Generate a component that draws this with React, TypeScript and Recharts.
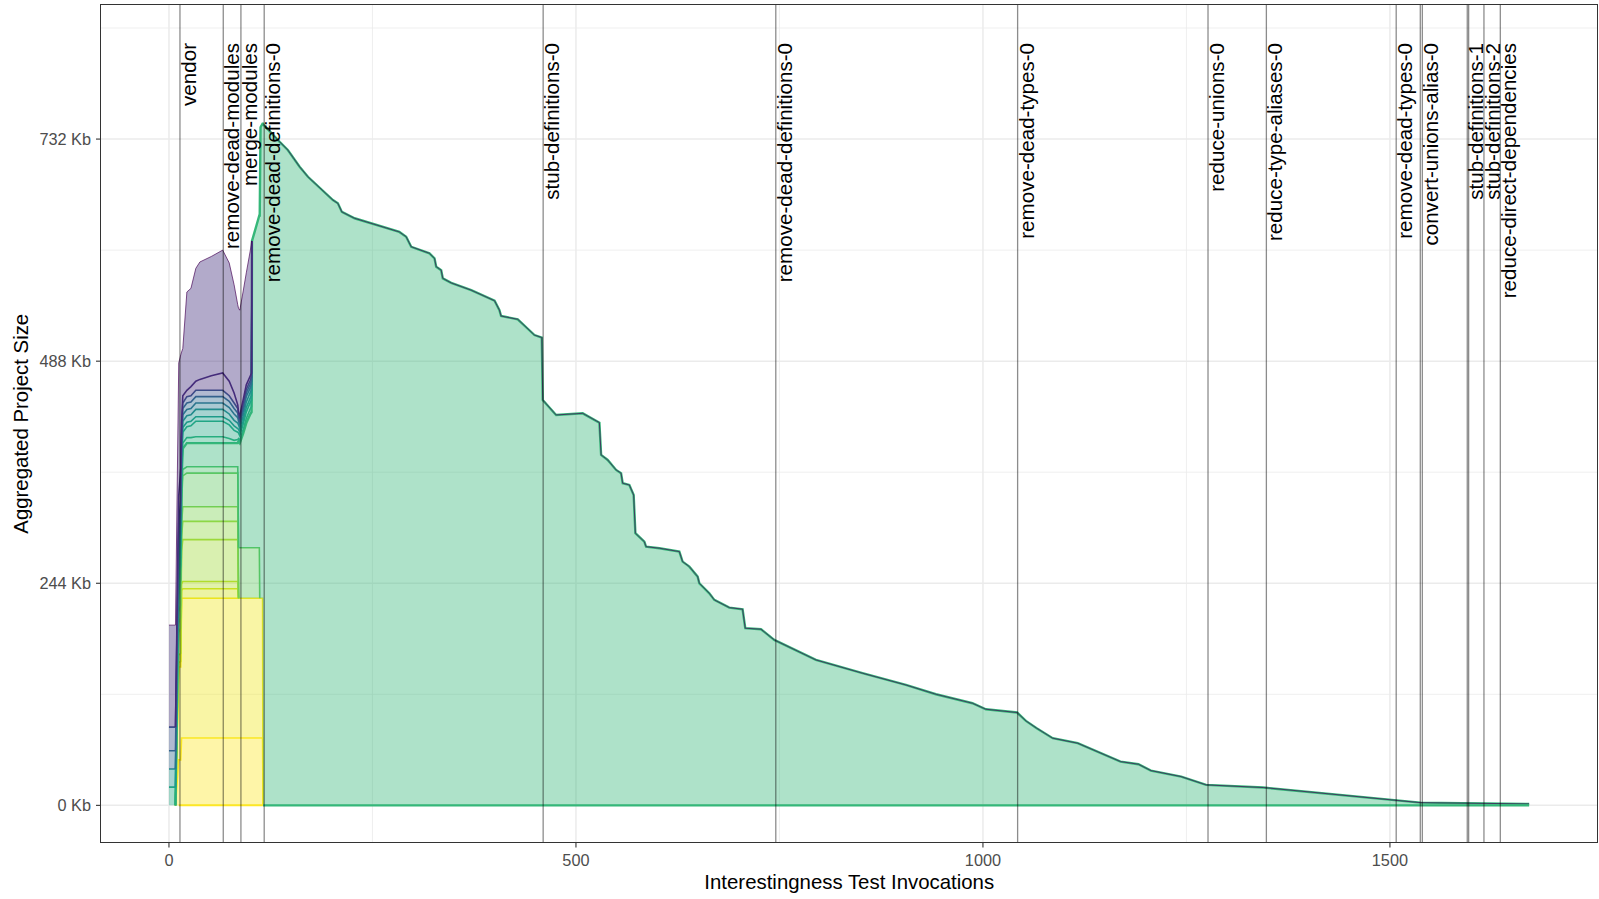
import React from "react";
import {
  ComposedChart,
  Area,
  XAxis,
  YAxis,
  CartesianGrid,
  ReferenceLine,
} from "recharts";

const FONT = '"Liberation Sans", Arial, Helvetica, sans-serif';

// reduction passes, at the test invocation where each one starts
const stageNames = [
  "vendor",
  "remove-dead-modules",
  "merge-modules",
  "remove-dead-definitions-0",
  "stub-definitions-0",
  "remove-dead-definitions-0",
  "remove-dead-types-0",
  "reduce-unions-0",
  "reduce-type-aliases-0",
  "remove-dead-types-0",
  "convert-unions-alias-0",
  "stub-definitions-1",
  "stub-definitions-2",
  "reduce-direct-dependencies",
];
const stageX = [13.5, 66.7, 88.4, 117, 459.7, 745.5, 1042.6, 1276.5, 1348.2, 1507.7, 1539.8, 1595, 1615.5, 1635.6];
// unlabelled marks drawn right next to a labelled one
const twinStageX = [1537.3, 1596.7];

const xTicks = [0, 500, 1000, 1500];
const xMinor = [250, 750, 1250];
const yTicks = [0, 244, 488, 732];
const yMinor = [122, 366, 610, 854];

// early phase: one value per file (Kb) at each of these invocations
const earlyX = [0, 8, 12, 14.5, 15.5, 17, 22, 27, 33, 38, 52, 66, 74, 80, 84.5, 85.5, 87, 91, 95, 100, 101.5, 102, 111, 111.5, 112.5, 115, 115.5];

const yellowA = [null, 0, 50, 50, 74, 74, 74, 74, 74, 74, 74, 74, 74, 74, 74, 74, 74, 74, 74, 74, 74, 74, 74, 74, 74, 74, 0];
const yellowB = [null, 0, 102, 102, 153.5, 153.5, 153.5, 153.5, 153.5, 153.5, 153.5, 153.5, 153.5, 153.5, 153.5, 153.5, 153.5, 153.5, 153.5, 153.5, 153.5, 153.5, 153.5, 153.5, 153.5, 153.5, 0];
const limeA = [null, 0, 5, 6, 8.5, 10.5, 10.5, 10.5, 10.5, 10.5, 10.5, 10.5, 10.5, 10.5, 10.5, 0, null, null, null, null, null, null, null, null, null, null, null];
const limeB = [null, 0, 8, 9, 7, 8, 8, 8, 8, 8, 8, 8, 8, 8, 8, 0, null, null, null, null, null, null, null, null, null, null, null];
const leafA = [null, 0, 25, 28, 37, 46, 46, 46, 46, 46, 46, 46, 46, 46, 46, 0, null, null, null, null, null, null, null, null, null, null, null];
const leafB = [null, 0, 10, 12, 16, 20, 20, 20, 20, 20, 20, 20, 20, 20, 20, 0, null, null, null, null, null, null, null, null, null, null, null];
const leafC = [null, 0, 12, 13, 14, 16, 16, 16, 16, 16, 16, 16, 16, 16, 16, 0, null, null, null, null, null, null, null, null, null, null, null];
const grassA = [null, 0, 20, 25, 25, 34, 37, 37, 37, 37, 37, 37, 37, 37, 37, 55.5, 55.5, 55.5, 55.5, 55.5, 55.5, 55.5, 55.5, 0, null, null, null];
const grassB = [null, 0, 5, 5, 7, 7, 7, 7, 7, 7, 7, 7, 7, 7, 7, 0, null, null, null, null, null, null, null, null, null, null, null];
const mainEarly = [null, 0, 13, 15, 18, 23, 26, 26, 26, 26, 26, 26, 26, 26, 26, 117, 115, 125, 137, 147, 149, 337, 365, 420.5, 517.5, 521.5, 749];
const tealA = [null, 0, 6, 7, 6, 6, 6, 6, 7, 7, 7, 7, 5, 3, 4, 3, 3, 4, 5, 6, 6, 0, null, null, null, null, null];
const tealB = [20, 20, 10, 12, 12, 12, 12, 13, 17, 17, 17, 17, 15, 11, 8, 6, 5, 6, 7, 7, 7, 0, null, null, null, null, null];
const tealC = [null, 0, 6, 6, 5, 5, 5, 5, 5, 5, 5, 5, 5, 5, 4, 4, 4, 4, 5, 5, 5, 0, null, null, null, null, null];
const tealD = [20, 20, 8, 10, 7, 7, 7, 7, 8, 8, 8, 8, 7, 6, 6, 5, 4, 5, 6, 6, 6, 0, null, null, null, null, null];
const blueA = [null, 0, 10, 12, 7, 7, 7, 7, 7, 7, 7, 7, 7, 7, 6, 4, 4, 5, 6, 5, 6, 0, null, null, null, null, null];
const blueB = [20, 20, 10, 12, 7, 7, 7, 7, 7, 7, 7, 7, 7, 6, 5, 3, 3, 4, 4, 4, 4, 0, null, null, null, null, null];
const blueC = [26, 26, 10, 12, 6, 6, 7, 7, 7, 7, 7, 7, 6, 6, 5, 2, 3, 4, 4, 4, 4, 0, null, null, null, null, null];
const indigo = [null, 0, 30, 34, 10, 8, 7, 10, 10, 12, 16, 19, 16, 11, 4, 5, 4, 5, 5, 5, 5, 0, null, null, null, null, null];
const purple = [112, 112, 146, 125, 78, 52, 108, 108, 124, 129, 131, 135, 130, 119, 110, 114, 116, 119, 123, 138, 145, 0, null, null, null, null, null];

// the merged file after every other file has been folded into it
const mainTailX = [116, 136, 146, 160.5, 170.7, 201.4, 207.5, 212.4, 228, 283, 291.4, 297.6, 320, 326.2, 328.3, 334.4, 336.4, 346.7, 371.3, 400, 406, 408, 428.5, 449, 458, 459.2, 475.6, 508.3, 528.8, 530.9, 539, 549.3, 555.4, 557.4, 565.6, 570.9, 573, 584, 586.1, 602.5, 627, 631, 639.3, 649.5, 651.6, 663.8, 670, 688.4, 704.7, 708, 727.3, 743.6, 794.8, 852, 905.3, 942.2, 987.1, 1003.6, 1041.9, 1052.8, 1066, 1085.7, 1116.4, 1169, 1191, 1206.3, 1243.5, 1274.2, 1344.4, 1502.2, 1537.3, 1671];
const mainTailKb = [748, 729, 720, 701.6, 690.6, 665, 661.4, 652, 645, 630, 624.7, 613.7, 606.5, 601, 591.8, 588, 579, 574, 566, 554.4, 544, 537.6, 534, 516.7, 514, 445.4, 428.9, 430.7, 420.5, 385, 379.5, 368.5, 365, 353.9, 352, 341, 299, 289.7, 284.2, 282.5, 278.8, 267.8, 262.3, 251.3, 244, 233, 225.7, 217.3, 215.5, 194.6, 193.5, 181.8, 159.8, 145.2, 132.3, 122.1, 112.2, 105.6, 102, 92.8, 84.8, 73.8, 68.3, 48.1, 45.2, 38.2, 31.6, 22.5, 19.6, 6, 3, 1.6];

// stacking order: first entry sits at the bottom
const files = [
  { key: "yellowA", color: "#FDE725", fill: "#FDE725", kb: yellowA },
  { key: "yellowB", color: "#F1E51D", fill: "#F1E51D", kb: yellowB },
  { key: "limeA", color: "#D0E11C", fill: "#D0E11C", kb: limeA },
  { key: "limeB", color: "#B5DE2B", fill: "#B5DE2B", kb: limeB },
  { key: "leafA", color: "#A0DA39", fill: "#A0DA39", kb: leafA },
  { key: "leafB", color: "#8FD744", fill: "#8FD744", kb: leafB },
  { key: "leafC", color: "#7AD151", fill: "#7AD151", kb: leafC },
  { key: "grassA", color: "#5EC962", fill: "#5EC962", kb: grassA },
  { key: "grassB", color: "#4AC16D", fill: "#4AC16D", kb: grassB },
  { key: "main", color: "#35B779", fill: "#35B779", kb: mainEarly },
  { key: "tealA", color: "#29AF7F", fill: "#29AF7F", kb: tealA },
  { key: "tealB", color: "#22A884", fill: "#22A884", kb: tealB },
  { key: "tealC", color: "#1F9E89", fill: "#1F9E89", kb: tealC },
  { key: "tealD", color: "#21918C", fill: "#21918C", kb: tealD },
  { key: "blueA", color: "#2A788E", fill: "#2A788E", kb: blueA },
  { key: "blueB", color: "#31688E", fill: "#31688E", kb: blueB },
  { key: "blueC", color: "#3B528B", fill: "#3B528B", kb: blueC },
  { key: "indigo", color: "#472D7B", fill: "#472D7B", kb: indigo },
  { key: "purple", color: "#440154", fill: "#3F2A7A", kb: purple },
];

const rows: Record<string, number | null>[] = earlyX.map((x, i) => {
  const row: Record<string, number | null> = { x };
  files.forEach((f) => {
    row[f.key] = f.kb[i];
  });
  return row;
});
// once merged away the purple file stays at 0 Kb, riding on top of the main file
mainTailX.forEach((x, i) => rows.push({ x, main: mainTailKb[i], purple: 0 }));

const StageLabel = (props: any) => {
  const { viewBox, stage } = props;
  if (!viewBox || !stage) return null;
  const x = viewBox.x + 16;
  const y = 43;
  return (
    <text
      x={x}
      y={y}
      transform={`rotate(-90 ${x} ${y})`}
      textAnchor="end"
      fontFamily={FONT}
      fontSize={20.6}
      fill="#000"
    >
      {stage}
    </text>
  );
};

const XTitle = (props: any) => {
  const { viewBox } = props;
  return (
    <text
      x={viewBox.x + viewBox.width / 2}
      y={viewBox.y + 46.5}
      textAnchor="middle"
      fontFamily={FONT}
      fontSize={20.4}
      fill="#000"
    >
      Interestingness Test Invocations
    </text>
  );
};

const YTitle = (props: any) => {
  const { viewBox } = props;
  const x = 27.5;
  const y = viewBox.y + viewBox.height / 2;
  return (
    <text
      x={x}
      y={y}
      transform={`rotate(-90 ${x} ${y})`}
      textAnchor="middle"
      fontFamily={FONT}
      fontSize={20.4}
      fill="#000"
    >
      Aggregated Project Size
    </text>
  );
};

const tickStyle = { fontFamily: FONT, fontSize: 16.3, fill: "#4D4D4D" };

const App = () => {
  return (
    <div style={{ position: "absolute", left: 0, top: 0, width: 1599, height: 899, background: "#fff" }}>
      <ComposedChart
        width={1599}
        height={899}
        data={rows}
        margin={{ top: 5, right: 1.5, left: 0, bottom: 0 }}
      >
        <CartesianGrid
          horizontalValues={yMinor}
          verticalValues={xMinor}
          stroke="#EBEBEB"
          strokeWidth={0.8}
        />
        <CartesianGrid
          horizontalValues={yTicks}
          verticalValues={xTicks}
          stroke="#EBEBEB"
          strokeWidth={1.5}
        />
        <XAxis
          type="number"
          dataKey="x"
          domain={[-83.5, 1755]}
          allowDataOverflow
          ticks={xTicks}
          height={56.5}
          axisLine={false}
          tickLine={{ stroke: "#333333", strokeWidth: 1.1 }}
          tickSize={5}
          tickMargin={6.5}
          tick={tickStyle}
          label={<XTitle />}
        />
        <YAxis
          type="number"
          domain={[-40.8, 879.3]}
          allowDataOverflow
          ticks={yTicks}
          width={101}
          axisLine={false}
          tickLine={{ stroke: "#333333", strokeWidth: 1.1 }}
          tickSize={5}
          tickMargin={5}
          tick={tickStyle}
          tickFormatter={(v: number) => `${v} Kb`}
          label={<YTitle />}
        />
        {files.map((f) => (
          <Area
            key={f.key}
            type="linear"
            dataKey={f.key}
            stackId="files"
            stroke={f.color}
            strokeWidth={f.key === "main" ? 2.4 : f.key === "purple" ? 0.9 : 1.6}
            strokeOpacity={f.key === "purple" ? 0.75 : 1}
            fill={f.fill}
            fillOpacity={0.4}
            dot={false}
            activeDot={false}
            isAnimationActive={false}
          />
        ))}
        <ReferenceLine
          segment={[
            { x: earlyX[2], y: 0 },
            { x: earlyX[earlyX.length - 1], y: 0 },
          ]}
          stroke="#FDE725"
          strokeWidth={2}
        />
        <ReferenceLine
          segment={[
            { x: earlyX[earlyX.length - 1], y: 0 },
            { x: mainTailX[mainTailX.length - 1], y: 0 },
          ]}
          stroke="#35B779"
          strokeWidth={2.2}
        />
        {twinStageX.map((x, i) => (
          <ReferenceLine
            key={`twin-${i}`}
            x={x}
            stroke="#000"
            strokeOpacity={0.45}
            strokeWidth={1.3}
          />
        ))}
        {stageX.map((x, i) => (
          <ReferenceLine
            key={`stage-${i}`}
            x={x}
            stroke="#000"
            strokeOpacity={0.45}
            strokeWidth={1.3}
            label={<StageLabel stage={stageNames[i]} />}
          />
        ))}
      </ComposedChart>
      <div
        style={{
          position: "absolute",
          left: 100.4,
          top: 4.4,
          width: 1497.5,
          height: 838.5,
          border: "1.2px solid #333333",
          boxSizing: "border-box",
          pointerEvents: "none",
        }}
      />
    </div>
  );
};

export default App;
